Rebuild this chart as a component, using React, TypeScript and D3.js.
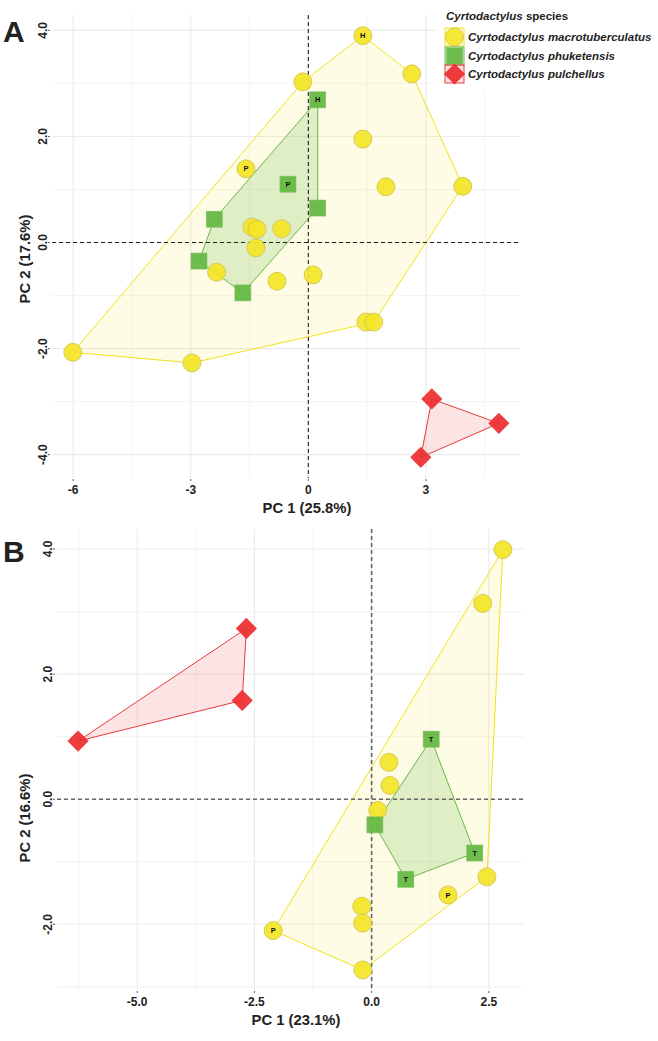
import * as React from 'react';
import * as d3 from 'd3';

// species names (legend order)
const speciesNames = ['macrotuberculatus', 'phuketensis', 'pulchellus'];

// panel A scores [PC1, PC2, tag]
const aMacro: [number, number, string][] = [
  [1.39, 3.9, 'H'], [2.64, 3.18, ''], [-0.14, 3.03, ''], [1.39, 1.95, ''],
  [-1.59, 1.39, 'P'], [1.98, 1.05, ''], [3.94, 1.06, ''], [-1.44, 0.29, ''],
  [-1.31, 0.25, ''], [-0.68, 0.26, ''], [-1.34, -0.1, ''], [-2.34, -0.56, ''],
  [-0.8, -0.73, ''], [0.12, -0.61, ''], [1.47, -1.5, ''], [1.67, -1.5, ''],
  [-6.01, -2.07, ''], [-2.97, -2.27, ''],
];
const aPhuk: [number, number, string][] = [
  [0.24, 2.69, 'H'], [-0.52, 1.1, 'P'], [0.24, 0.65, ''], [-2.4, 0.44, ''],
  [-2.79, -0.35, ''], [-1.67, -0.95, ''],
];
const aPulch: [number, number, string][] = [
  [3.15, -2.95, ''], [4.86, -3.41, ''], [2.87, -4.05, ''],
];

// panel B scores [PC1, PC2, tag]
const bMacro: [number, number, string][] = [
  [2.8, 3.99, ''], [2.37, 3.13, ''], [0.37, 0.59, ''], [0.39, 0.22, ''],
  [0.13, -0.18, ''], [2.46, -1.24, ''], [1.63, -1.53, 'P'], [-0.21, -1.71, ''],
  [-0.19, -1.98, ''], [-0.19, -2.73, ''], [-2.1, -2.1, 'P'],
];
const bPhuk: [number, number, string][] = [
  [1.27, 0.96, 'T'], [0.07, -0.41, ''], [2.2, -0.86, 'T'], [0.73, -1.28, 'T'],
];
const bPulch: [number, number, string][] = [
  [-2.67, 2.73, ''], [-2.76, 1.58, ''], [-6.26, 0.93, ''],
];

const aXTicks = [-6, -3, 0, 3];
const aXMinor = [-4.5, -1.5, 1.5, 4.5];
const aYTicks = [4, 2, 0, -2, -4];
const aYMinor = [3, 1, -1, -3];
const bXTicks = [-5, -2.5, 0, 2.5];
const bXMinor = [-6.25, -3.75, -1.25, 1.25];
const bYTicks = [4, 2, 0, -2];
const bYMinor = [3, 1, -1, -3];

const FONT = 'Liberation Sans, Arial, Helvetica, sans-serif';
const colors = {
  macrotuberculatus: { fill: '#f4e526', stroke: '#cdbf55', line: '#f1e21a', hull: 0.12 },
  phuketensis: { fill: '#66b845', stroke: '#7cc05f', line: '#69b84a', hull: 0.2 },
  pulchellus: { fill: '#ec2d2f', stroke: '#e83a3a', line: '#ec3a3a', hull: 0.13 },
};

function Marker({ sp, x, y, tag }: { sp: string; x: number; y: number; tag: string }) {
  const c = (colors as any)[sp];
  let shape;
  if (sp === 'macrotuberculatus') {
    shape = <circle cx={x} cy={y} r={9} fill={c.fill} fillOpacity={0.92} stroke={c.stroke} strokeWidth={0.8} />;
  } else if (sp === 'phuketensis') {
    shape = <rect x={x - 8} y={y - 8} width={16} height={16} fill={c.fill} fillOpacity={0.95} stroke={c.stroke} strokeWidth={0.6} />;
  } else {
    shape = <rect x={x - 7.5} y={y - 7.5} width={15} height={15} fill={c.fill} fillOpacity={0.92} transform={`rotate(45 ${x} ${y})`} />;
  }
  return (
    <g>
      {shape}
      {tag && (
        <text x={x} y={y + 2.6} textAnchor="middle" fontSize={7.5} fontWeight="bold" fill="#111" fontFamily={FONT}>{tag}</text>
      )}
    </g>
  );
}

type PanelProps = {
  letter: string; letterY: number;
  left: number; right: number; top: number; bottom: number;
  xDom: [number, number]; yDom: [number, number];
  xTicks: number[]; xMinor: number[]; yTicks: number[]; yMinor: number[];
  xFmt: (v: number) => string;
  xTitle: string; yTitle: string; xTitleX: number; yTitleY: number;
  groups: { sp: string; pts: [number, number, string][] }[];
  refColor: string; refWidth: number;
};

function Panel(p: PanelProps) {
  const x = d3.scaleLinear().domain(p.xDom).range([p.left, p.right]);
  const y = d3.scaleLinear().domain(p.yDom).range([p.bottom, p.top]);
  const grid = '#ebebeb';
  return (
    <g>
      {p.xMinor.map(v => <line key={'xm' + v} x1={x(v)} x2={x(v)} y1={p.top} y2={p.bottom} stroke={grid} strokeWidth={0.6} />)}
      {p.yMinor.map(v => <line key={'ym' + v} y1={y(v)} y2={y(v)} x1={p.left} x2={p.right} stroke={grid} strokeWidth={0.6} />)}
      {p.xTicks.map(v => <line key={'xM' + v} x1={x(v)} x2={x(v)} y1={p.top} y2={p.bottom} stroke={grid} strokeWidth={1.1} />)}
      {p.yTicks.map(v => <line key={'yM' + v} y1={y(v)} y2={y(v)} x1={p.left} x2={p.right} stroke={grid} strokeWidth={1.1} />)}

      {p.groups.map(g => {
        const c = (colors as any)[g.sp];
        const hull = d3.polygonHull(g.pts.map(d => [x(d[0]), y(d[1])] as [number, number]));
        if (!hull) return null;
        const path = 'M' + hull.map(h => h.join(',')).join('L') + 'Z';
        return <path key={'h' + g.sp} d={path} fill={c.fill} fillOpacity={c.hull} stroke={c.line} strokeWidth={1} />;
      })}

      <line x1={x(0)} x2={x(0)} y1={p.top} y2={p.bottom} stroke={p.refColor} strokeWidth={p.refWidth} strokeDasharray="4,3" />
      <line x1={p.left} x2={p.right} y1={y(0)} y2={y(0)} stroke={p.refColor} strokeWidth={p.refWidth} strokeDasharray="4,3" />

      {p.groups.map(g => g.pts.map((d, i) => (
        <Marker key={g.sp + i} sp={g.sp} x={x(d[0])} y={y(d[1])} tag={d[2]} />
      )))}

      {p.xTicks.map(v => (
        <g key={'xt' + v}>
          <line x1={x(v)} x2={x(v)} y1={p.bottom + 1} y2={p.bottom + 3} stroke="#333" strokeWidth={0.8} />
          <text x={x(v)} y={p.bottom + 16} textAnchor="middle" fontSize={12} fontWeight="bold" fill="#222" fontFamily={FONT}>{p.xFmt(v)}</text>
        </g>
      ))}
      {p.yTicks.map(v => (
        <g key={'yt' + v}>
          <line x1={p.left - 4} x2={p.left - 2} y1={y(v)} y2={y(v)} stroke="#333" strokeWidth={0.8} />
          <text transform={`translate(${p.left - 5},${y(v)}) rotate(-90)`} textAnchor="middle" fontSize={12} fontWeight="bold" fill="#222" fontFamily={FONT}>{v.toFixed(1)}</text>
        </g>
      ))}
      <text x={p.xTitleX} y={p.bottom + 35} textAnchor="middle" fontSize={14.8} fontWeight="bold" fill="#222" fontFamily={FONT}>{p.xTitle}</text>
      <text transform={`translate(30,${p.yTitleY}) rotate(-90)`} textAnchor="middle" fontSize={14.8} fontWeight="bold" fill="#222" fontFamily={FONT}>{p.yTitle}</text>
      <text x={3} y={p.letterY} fontSize={30} fontWeight="bold" fill="#222" fontFamily={FONT}>{p.letter}</text>
    </g>
  );
}

function Legend() {
  const x0 = 445;
  const rows = [28, 47, 65];
  return (
    <g>
      <rect x={436} y={2} width={222} height={88} fill="#fff" />
      <text x={x0 + 1} y={20} fontSize={11.5} fontWeight="bold" fill="#222" fontFamily={FONT}>
        <tspan fontStyle="italic">Cyrtodactylus</tspan> species
      </text>
      {speciesNames.map((sp, i) => {
        const c = (colors as any)[sp];
        const cy = rows[i] + 9;
        return (
          <g key={sp}>
            <rect x={x0} y={rows[i]} width={19} height={18} fill={c.fill} fillOpacity={c.hull} stroke={c.line} strokeWidth={1} />
            <Marker sp={sp} x={x0 + 9.5} y={cy} tag="" />
            <text x={x0 + 23} y={cy + 4} fontSize={11.5} fontWeight="bold" fontStyle="italic" fill="#222" fontFamily={FONT}>
              Cyrtodactylus {sp}
            </text>
          </g>
        );
      })}
    </g>
  );
}

export default function App() {
  return (
    <svg width={658} height={1041} style={{ position: 'absolute', left: 0, top: 0, background: '#fff' }}>
      <Panel
        letter="A" letterY={42}
        left={52} right={520} top={15} bottom={478}
        xDom={[-6.54, 5.4]} yDom={[-4.44, 4.29]}
        xTicks={aXTicks} xMinor={aXMinor} yTicks={aYTicks} yMinor={aYMinor}
        xFmt={v => String(v)}
        xTitle="PC 1 (25.8%)" yTitle="PC 2 (17.6%)" xTitleX={307} yTitleY={259}
        groups={[
          { sp: 'macrotuberculatus', pts: aMacro },
          { sp: 'phuketensis', pts: aPhuk },
          { sp: 'pulchellus', pts: aPulch },
        ]}
        refColor="#222" refWidth={1.1}
      />
      <Legend />
      <Panel
        letter="B" letterY={562}
        left={57} right={524} top={529} bottom={990}
        xDom={[-6.71, 3.25]} yDom={[-3.05, 4.32]}
        xTicks={bXTicks} xMinor={bXMinor} yTicks={bYTicks} yMinor={bYMinor}
        xFmt={v => v.toFixed(1)}
        xTitle="PC 1 (23.1%)" yTitle="PC 2 (16.6%)" xTitleX={296} yTitleY={818}
        groups={[
          { sp: 'macrotuberculatus', pts: bMacro },
          { sp: 'phuketensis', pts: bPhuk },
          { sp: 'pulchellus', pts: bPulch },
        ]}
        refColor="#666" refWidth={1.6}
      />
    </svg>
  );
}
